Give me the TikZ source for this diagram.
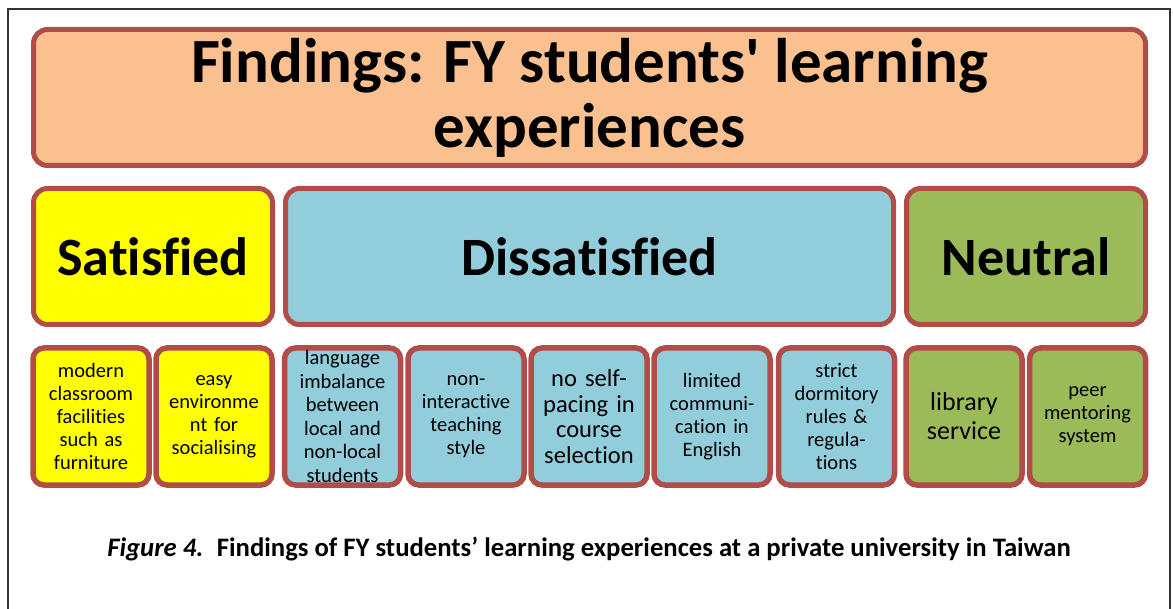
\documentclass[tikz,border=0pt]{standalone}
\usepackage{fontspec}
\newfontfamily\calfont{Carlito}[Ligatures=NoCommon]
\definecolor{bord}{HTML}{B24C48}
\definecolor{peach}{HTML}{FAC090}
\definecolor{ylw}{HTML}{FFFF00}
\definecolor{blu}{HTML}{92CDDC}
\definecolor{grn}{HTML}{9BBB59}
\tikzset{
  bigbox/.style={draw=bord, line width=5pt, rounded corners=14pt, inner sep=0pt, align=center},
  smallbox/.style={draw=bord, line width=5.5pt, rounded corners=11pt, inner sep=0pt, align=center,
     minimum width=116pt, minimum height=137pt, text width=114pt},
  smalltxt/.style={font=\calfont\fontsize{20.5}{23}\selectfont},
}
\begin{document}
\begin{tikzpicture}[x=1pt,y=-1pt, font=\calfont]
\useasboundingbox (0,0) rectangle (1173,609);
\draw[line width=1.2pt, black!80] (8,612) -- (8,9) -- (1170,9) -- (1170,612);
% title
\node[bigbox, fill=peach, minimum width=1112pt, minimum height=136pt,
  font=\calfont\fontsize{63}{65}\selectfont\bfseries] (title) at (589.5,97.5)
  {Findings: FY students' learning\\experiences};
% categories
\node[bigbox, fill=ylw, minimum width=239pt, minimum height=136pt,
  font=\calfont\fontsize{54}{58}\selectfont\bfseries] (sat) at (153,256.5) {Satisfied};
\node[bigbox, fill=blu, minimum width=608pt, minimum height=136pt,
  font=\calfont\fontsize{54}{58}\selectfont\bfseries] (dis) at (589.5,256.5) {Dissatisfied};
\node[bigbox, fill=grn, minimum width=239pt, minimum height=136pt,
  font=\calfont\fontsize{54}{58}\selectfont\bfseries] (neu) at (1026,256.5) {Neutral};
% items
\node[smallbox, fill=ylw, smalltxt] (s1) at (91,416.5) {modern\\classroom\\facilities\\such as\\furniture};
\node[smallbox, fill=ylw, smalltxt] (s2) at (214,416.5) {easy\\environme\\nt for\\socialising};
\node[smallbox, fill=blu, font=\calfont\fontsize{20.5}{23.5}\selectfont] (d1) at (342.5,416.5) {language\\imbalance\\between\\local and\\non-local\\students};
\node[smallbox, fill=blu, smalltxt] (d2) at (466,416.5) {non-\\interactive\\teaching\\style};
\node[smallbox, fill=blu, font=\calfont\fontsize{24.5}{25.5}\selectfont] (d3) at (589,416.5) {no self-\\pacing in\\course\\selection};
\node[smallbox, fill=blu, smalltxt] (d4) at (712,416.5) {limited\\communi-\\cation in\\English};
\node[smallbox, fill=blu, smalltxt] (d5) at (836.5,416.5) {strict\\dormitory\\rules \&\\regula-\\tions};
\node[smallbox, fill=grn, font=\calfont\fontsize{26}{29}\selectfont] (n1) at (964,416.5) {library\\service};
\node[smallbox, fill=grn, smalltxt] (n2) at (1087.5,416.5) {peer\\mentoring\\system};
% caption
\node[font=\calfont\fontsize{26.7}{30}\selectfont\bfseries] (cap) at (589,549)
  {\textit{Figure 4.}\hspace{0.5em}Findings of FY students’ learning experiences at a private university in Taiwan};
\end{tikzpicture}
\end{document}
